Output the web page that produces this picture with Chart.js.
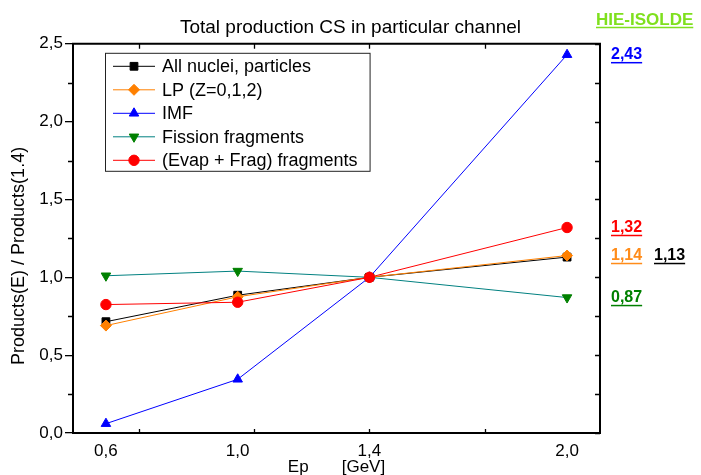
<!DOCTYPE html>
<html>
<head>
<meta charset="utf-8">
<script src="https://cdn.jsdelivr.net/npm/chart.js@4.4.1/dist/chart.umd.min.js"></script>
<style>
  html, body { margin: 0; padding: 0; background: #fff; }
  canvas { display: block; }
</style>
</head>
<body>
<canvas id="chartChannels" width="701" height="475"></canvas>
<script>
// values (ratio to the 1.4 GeV production)
const energies = [0.6, 1.0, 1.4, 2.0];
const allNuclei = [0.715, 0.885, 1.0, 1.13];
const lightParticles = [0.69, 0.875, 1.0, 1.14];
const imf = [0.06, 0.345, 1.0, 2.43];
const fission = [1.01, 1.04, 1.0, 0.87];
const evapFrag = [0.825, 0.84, 1.0, 1.32];
const seriesNames = ['All nuclei, particles', 'LP (Z=0,1,2)', 'IMF', 'Fission fragments', '(Evap + Frag) fragments'];

const xTickLabels = [0.6, 1.0, 1.4, 2.0];
const xTickMarks = [0.7, 1.05, 1.4, 1.75];
const yTicks = [0, 0.5, 1.0, 1.5, 2.0, 2.5];
const yMinorTicks = [0.25, 0.75, 1.25, 1.75, 2.25];

const FONT = "'Liberation Sans', Arial, Helvetica, sans-serif";
Chart.defaults.font.family = FONT;
Chart.defaults.color = '#000';

const lineColors = ['#000000', '#ff8000', '#0000ff', '#008080', '#ff0000'];
const markColors = ['#000000', '#ff8000', '#0000ff', '#008000', '#ff0000'];
const markStyles = ['rect', 'rectRot', 'triangle', 'triangle', 'circle'];
const markRotation = [0, 0, 0, 180, 0];
const drawOrder = [5, 4, 3, 2, 1];
const labelColors = ['#000000', '#ff8c1a', '#0000ff', '#008000', '#ff0000'];

function comma(v, d) { return v.toFixed(d).replace('.', ','); }

const seriesValues = [allNuclei, lightParticles, imf, fission, evapFrag];

const datasets = seriesValues.map(function (vals, i) {
  return {
    label: seriesNames[i],
    data: energies.map(function (e, j) { return { x: e, y: vals[j] }; }),
    borderColor: lineColors[i],
    borderWidth: 1,
    backgroundColor: markColors[i],
    pointBackgroundColor: markColors[i],
    pointBorderColor: markColors[i],
    pointBorderWidth: 1,
    pointStyle: markStyles[i],
    pointRotation: markRotation[i],
    pointRadius: i === 4 ? 5.2 : 5.5,
    tension: 0,
    order: drawOrder[i],
  };
});

function formatAxis(v) { return comma(v, 1); }

// frame, inward ticks, legend box and end-value labels
const decorations = {
  id: 'decorations',
  afterDraw: function (chart) {
    const ctx = chart.ctx;
    const a = chart.chartArea;
    const xs = chart.scales.x;
    const ys = chart.scales.y;
    ctx.save();
    ctx.strokeStyle = '#000';
    ctx.lineWidth = 2;
    ctx.beginPath();
    ctx.moveTo(a.left - 1, a.top);
    ctx.lineTo(a.right, a.top);
    ctx.lineTo(a.right, a.bottom + 1);
    ctx.stroke();

    ctx.lineWidth = 1.3;
    ctx.beginPath();
    xTickMarks.forEach(function (v) {
      const px = Math.round(xs.getPixelForValue(v)) + 0.5;
      ctx.moveTo(px, a.top); ctx.lineTo(px, a.top + 5);
      ctx.moveTo(px, a.bottom); ctx.lineTo(px, a.bottom - 4);
    });
    yTicks.concat(yMinorTicks).forEach(function (v) {
      const py = Math.round(ys.getPixelForValue(v)) + 0.5;
      ctx.moveTo(a.right, py); ctx.lineTo(a.right - 5, py);
    });
    yMinorTicks.forEach(function (v) {
      const py = Math.round(ys.getPixelForValue(v)) + 0.5;
      ctx.moveTo(a.left, py); ctx.lineTo(a.left - 5, py);
    });
    ctx.stroke();

    // legend
    ctx.font = '18px ' + FONT;
    let maxW = 0;
    seriesNames.forEach(function (n) { maxW = Math.max(maxW, ctx.measureText(n).width); });
    const lx = a.left + 32, ly = a.top + 9;
    const lw = 57 + maxW + 12, lh = 118;
    ctx.lineWidth = 1;
    ctx.strokeStyle = '#222';
    ctx.strokeRect(lx + 0.5, ly + 0.5, lw, lh);
    chart.data.datasets.forEach(function (ds, i) {
      const cy = ly + 13.5 + i * 23.5;
      ctx.strokeStyle = ds.borderColor;
      ctx.lineWidth = 1;
      ctx.beginPath();
      ctx.moveTo(lx + 8, cy); ctx.lineTo(lx + 50, cy);
      ctx.stroke();
      ctx.fillStyle = ds.pointBackgroundColor;
      ctx.strokeStyle = ds.pointBorderColor;
      Chart.helpers.drawPoint(ctx, { pointStyle: ds.pointStyle, rotation: ds.pointRotation, radius: ds.pointRadius, borderWidth: 1 }, lx + 29, cy);
      ctx.fillStyle = '#000';
      ctx.textBaseline = 'middle';
      ctx.textAlign = 'left';
      ctx.fillText(ds.label, lx + 57, cy + 1);
    });

    // end values at 2.0 GeV
    ctx.font = 'bold 16px ' + FONT;
    ctx.textBaseline = 'middle';
    function tag(text, x, y, color) {
      const w = ctx.measureText(text).width;
      ctx.fillStyle = color;
      ctx.fillText(text, x, y);
      ctx.strokeStyle = color;
      ctx.lineWidth = 1.5;
      ctx.beginPath();
      ctx.moveTo(x, y + 8); ctx.lineTo(x + w, y + 8);
      ctx.stroke();
    }
    const last = energies.length - 1;
    [2, 4, 1, 3].forEach(function (i) {
      tag(comma(seriesValues[i][last], 2), a.right + 11, ys.getPixelForValue(seriesValues[i][last]), labelColors[i]);
    });
    // all nuclei value sits beside the LP value
    tag(comma(allNuclei[last], 2), a.right + 54, ys.getPixelForValue(lightParticles[last]), labelColors[0]);

    ctx.font = 'bold 17px ' + FONT;
    ctx.textBaseline = 'alphabetic';
    ctx.fillStyle = '#7fe01e';
    const hw = ctx.measureText('HIE-ISOLDE').width;
    ctx.fillText('HIE-ISOLDE', a.right - 4, 25);
    ctx.strokeStyle = '#7fe01e';
    ctx.lineWidth = 1.5;
    ctx.beginPath();
    ctx.moveTo(a.right - 4, 27.5); ctx.lineTo(a.right - 4 + hw, 27.5);
    ctx.stroke();
    ctx.restore();
  },
};

new Chart(document.getElementById('chartChannels'), {
  type: 'line',
  data: { datasets: datasets },
  options: {
    responsive: false,
    animation: false,
    layout: { padding: 0 },
    plugins: {
      legend: { display: false },
      tooltip: { enabled: false },
      title: {
        display: true,
        text: 'Total production CS in particular channel',
        color: '#000',
        font: { size: 19, weight: 'normal' },
        padding: { top: 16, bottom: 5 },
      },
    },
    scales: {
      x: {
        type: 'linear',
        min: 0.5,
        max: 2.1,
        afterBuildTicks: function (s) { s.ticks = xTickLabels.map(function (v) { return { value: v }; }); },
        afterFit: function (s) { s.height = 42; },
        ticks: { autoSkip: false, maxRotation: 0, padding: 8, font: { size: 17 }, color: '#000', callback: formatAxis },
        grid: { display: false, drawTicks: false },
        border: { display: true, color: '#000', width: 2 },
        title: { display: true, text: 'Ep       [GeV]', color: '#000', font: { size: 17 }, padding: { top: 0, bottom: -3 } },
      },
      y: {
        min: 0,
        max: 2.5,
        afterBuildTicks: function (s) { s.ticks = yTicks.map(function (v) { return { value: v }; }); },
        afterFit: function (s) { s.width = 73; },
        ticks: { padding: 2, font: { size: 17 }, color: '#000', callback: formatAxis },
        grid: { drawOnChartArea: false, drawTicks: true, tickLength: 8, color: '#000', lineWidth: 1.3 },
        border: { display: true, color: '#000', width: 2 },
        title: { display: true, text: 'Products(E) / Products(1.4)       ', color: '#000', font: { size: 18 }, padding: { top: 8, bottom: 0 } },
      },
      yRight: {
        position: 'right',
        min: 0,
        max: 2.5,
        afterFit: function (s) { s.width = 101; },
        ticks: { display: false },
        grid: { display: false },
        border: { display: false },
      },
    },
  },
  plugins: [decorations],
});
</script>
</body>
</html>
